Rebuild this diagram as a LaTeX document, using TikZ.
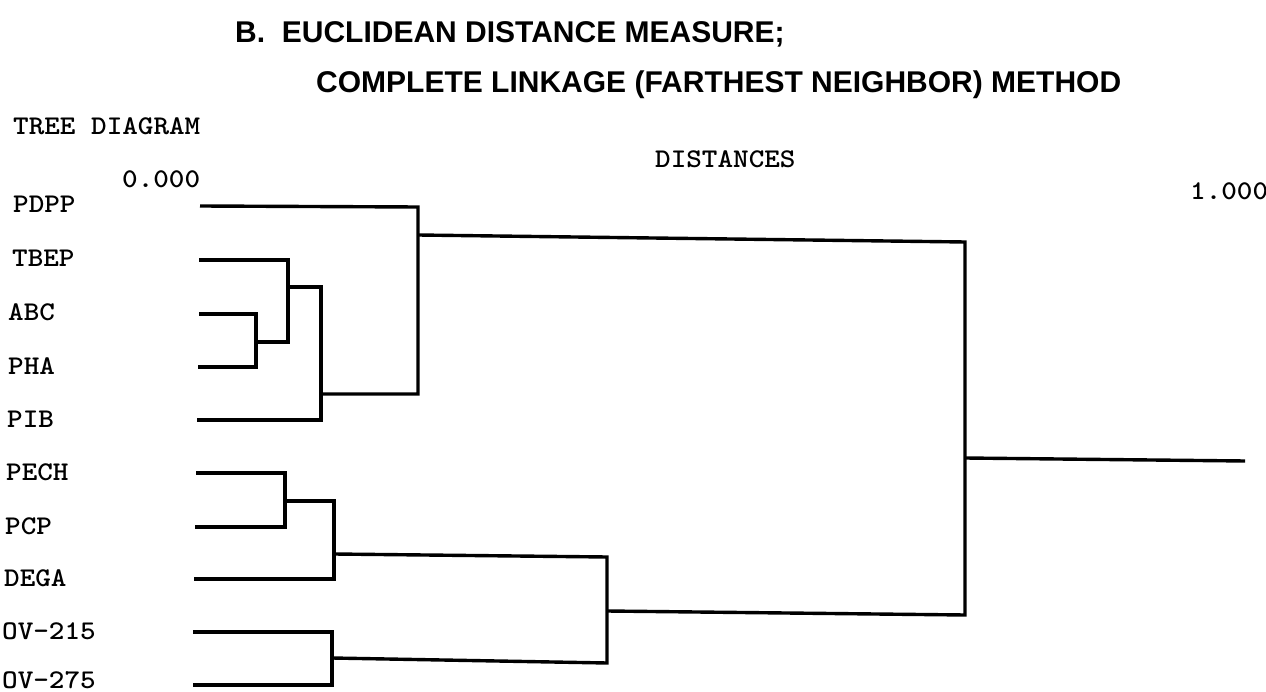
\documentclass[tikz,border=0pt]{standalone}
\usepackage{fontspec}
\usepackage{graphicx}
\newfontfamily\headfont{Liberation Sans}
% widened line-printer text
\newcommand\widetext[1]{\scalebox{1.1}[1]{#1}}

\begin{document}
\begin{tikzpicture}[x=1pt,y=-1pt,
  heading/.style={font=\headfont\bfseries\fontsize{30}{34}\selectfont, inner sep=0pt, anchor=base west},
  print/.style={font=\ttfamily\bfseries\fontsize{27}{30}\selectfont, inner sep=0pt, anchor=base west},
  branch/.style={line width=3.4pt, line join=miter, black}]

\useasboundingbox (0,0) rectangle (1266,692);

% headings
\node[heading] (title1) at (235,43) {B.\ \ EUCLIDEAN DISTANCE MEASURE;};
\node[heading] (title2) at (316,93) {COMPLETE LINKAGE (FARTHEST NEIGHBOR) METHOD};

% printout captions and scale
\node[print] (tree) at (13,135) {\widetext{TREE DIAGRAM}};
\node[print] (dist) at (655,168) {\widetext{DISTANCES}};
\node[print] (zero) at (122,188) {\widetext{0.000}};
\node[print] (one) at (1190,200) {\widetext{1.000}};

% leaf labels
\node[print] (pdpp) at (13,213) {\widetext{PDPP}};
\node[print] (tbep) at (12,267) {\widetext{TBEP}};
\node[print] (abc)  at (8,321)  {\widetext{ABC}};
\node[print] (pha)  at (8,374)  {\widetext{PHA}};
\node[print] (pib)  at (7,427)  {\widetext{PIB}};
\node[print] (pech) at (6,480)  {\widetext{PECH}};
\node[print] (pcp)  at (5,534)  {\widetext{PCP}};
\node[print] (dega) at (4,586)  {\widetext{DEGA}};
\node[print] (ov215) at (2,639) {\widetext{OV-215}};
\node[print] (ov275) at (2,688) {\widetext{OV-275}};

% leaf line starts
\coordinate (s1) at (200,206);
\coordinate (s2) at (199,260);
\coordinate (s3) at (199,314);
\coordinate (s4) at (198,367);
\coordinate (s5) at (197,420);
\coordinate (s6) at (196,473);
\coordinate (s7) at (195,527);
\coordinate (s8) at (194,579);
\coordinate (s9) at (193,632);
\coordinate (s10) at (193,685);

% joins: top corner, bottom corner, outgoing point
\coordinate (m1t) at (256,314); \coordinate (m1b) at (256,367); \coordinate (m1) at (256,342);
\coordinate (m2t) at (288,260); \coordinate (m2b) at (288,342); \coordinate (m2) at (288,287);
\coordinate (m3t) at (321,287); \coordinate (m3b) at (321,420); \coordinate (m3) at (321,394);
\coordinate (m4t) at (418,207); \coordinate (m4b) at (418,394); \coordinate (m4) at (418,235);
\coordinate (m5t) at (285,473); \coordinate (m5b) at (285,527); \coordinate (m5) at (285,501);
\coordinate (m6t) at (334,501); \coordinate (m6b) at (334,579); \coordinate (m6) at (334,554);
\coordinate (m7t) at (332,632); \coordinate (m7b) at (332,685); \coordinate (m7) at (332,658);
\coordinate (m8t) at (607,557); \coordinate (m8b) at (607,663); \coordinate (m8) at (607,611);
\coordinate (m9t) at (965,242); \coordinate (m9b) at (965,615); \coordinate (m9) at (965,458);
\coordinate (root) at (1245,461);

% first cluster
\draw[branch] (s3) -- (m1t) -- (m1b) -- (s4);
\draw[branch] (s2) -- (m2t) -- (m2b) -- (m1);
\draw[branch] (m2) -- (m3t) -- (m3b) -- (s5);
\draw[branch] (s1) -- (m4t) -- (m4b) -- (m3);

% second cluster
\draw[branch] (s6) -- (m5t) -- (m5b) -- (s7);
\draw[branch] (m5) -- (m6t) -- (m6b) -- (s8);
\draw[branch] (s9) -- (m7t) -- (m7b) -- (s10);
\draw[branch] (m6) -- (m8t) -- (m8b) -- (m7);

% top join and stem
\draw[branch] (m4) -- (m9t) -- (m9b) -- (m8);
\draw[branch] (m9) -- (root);
\end{tikzpicture}
\end{document}
